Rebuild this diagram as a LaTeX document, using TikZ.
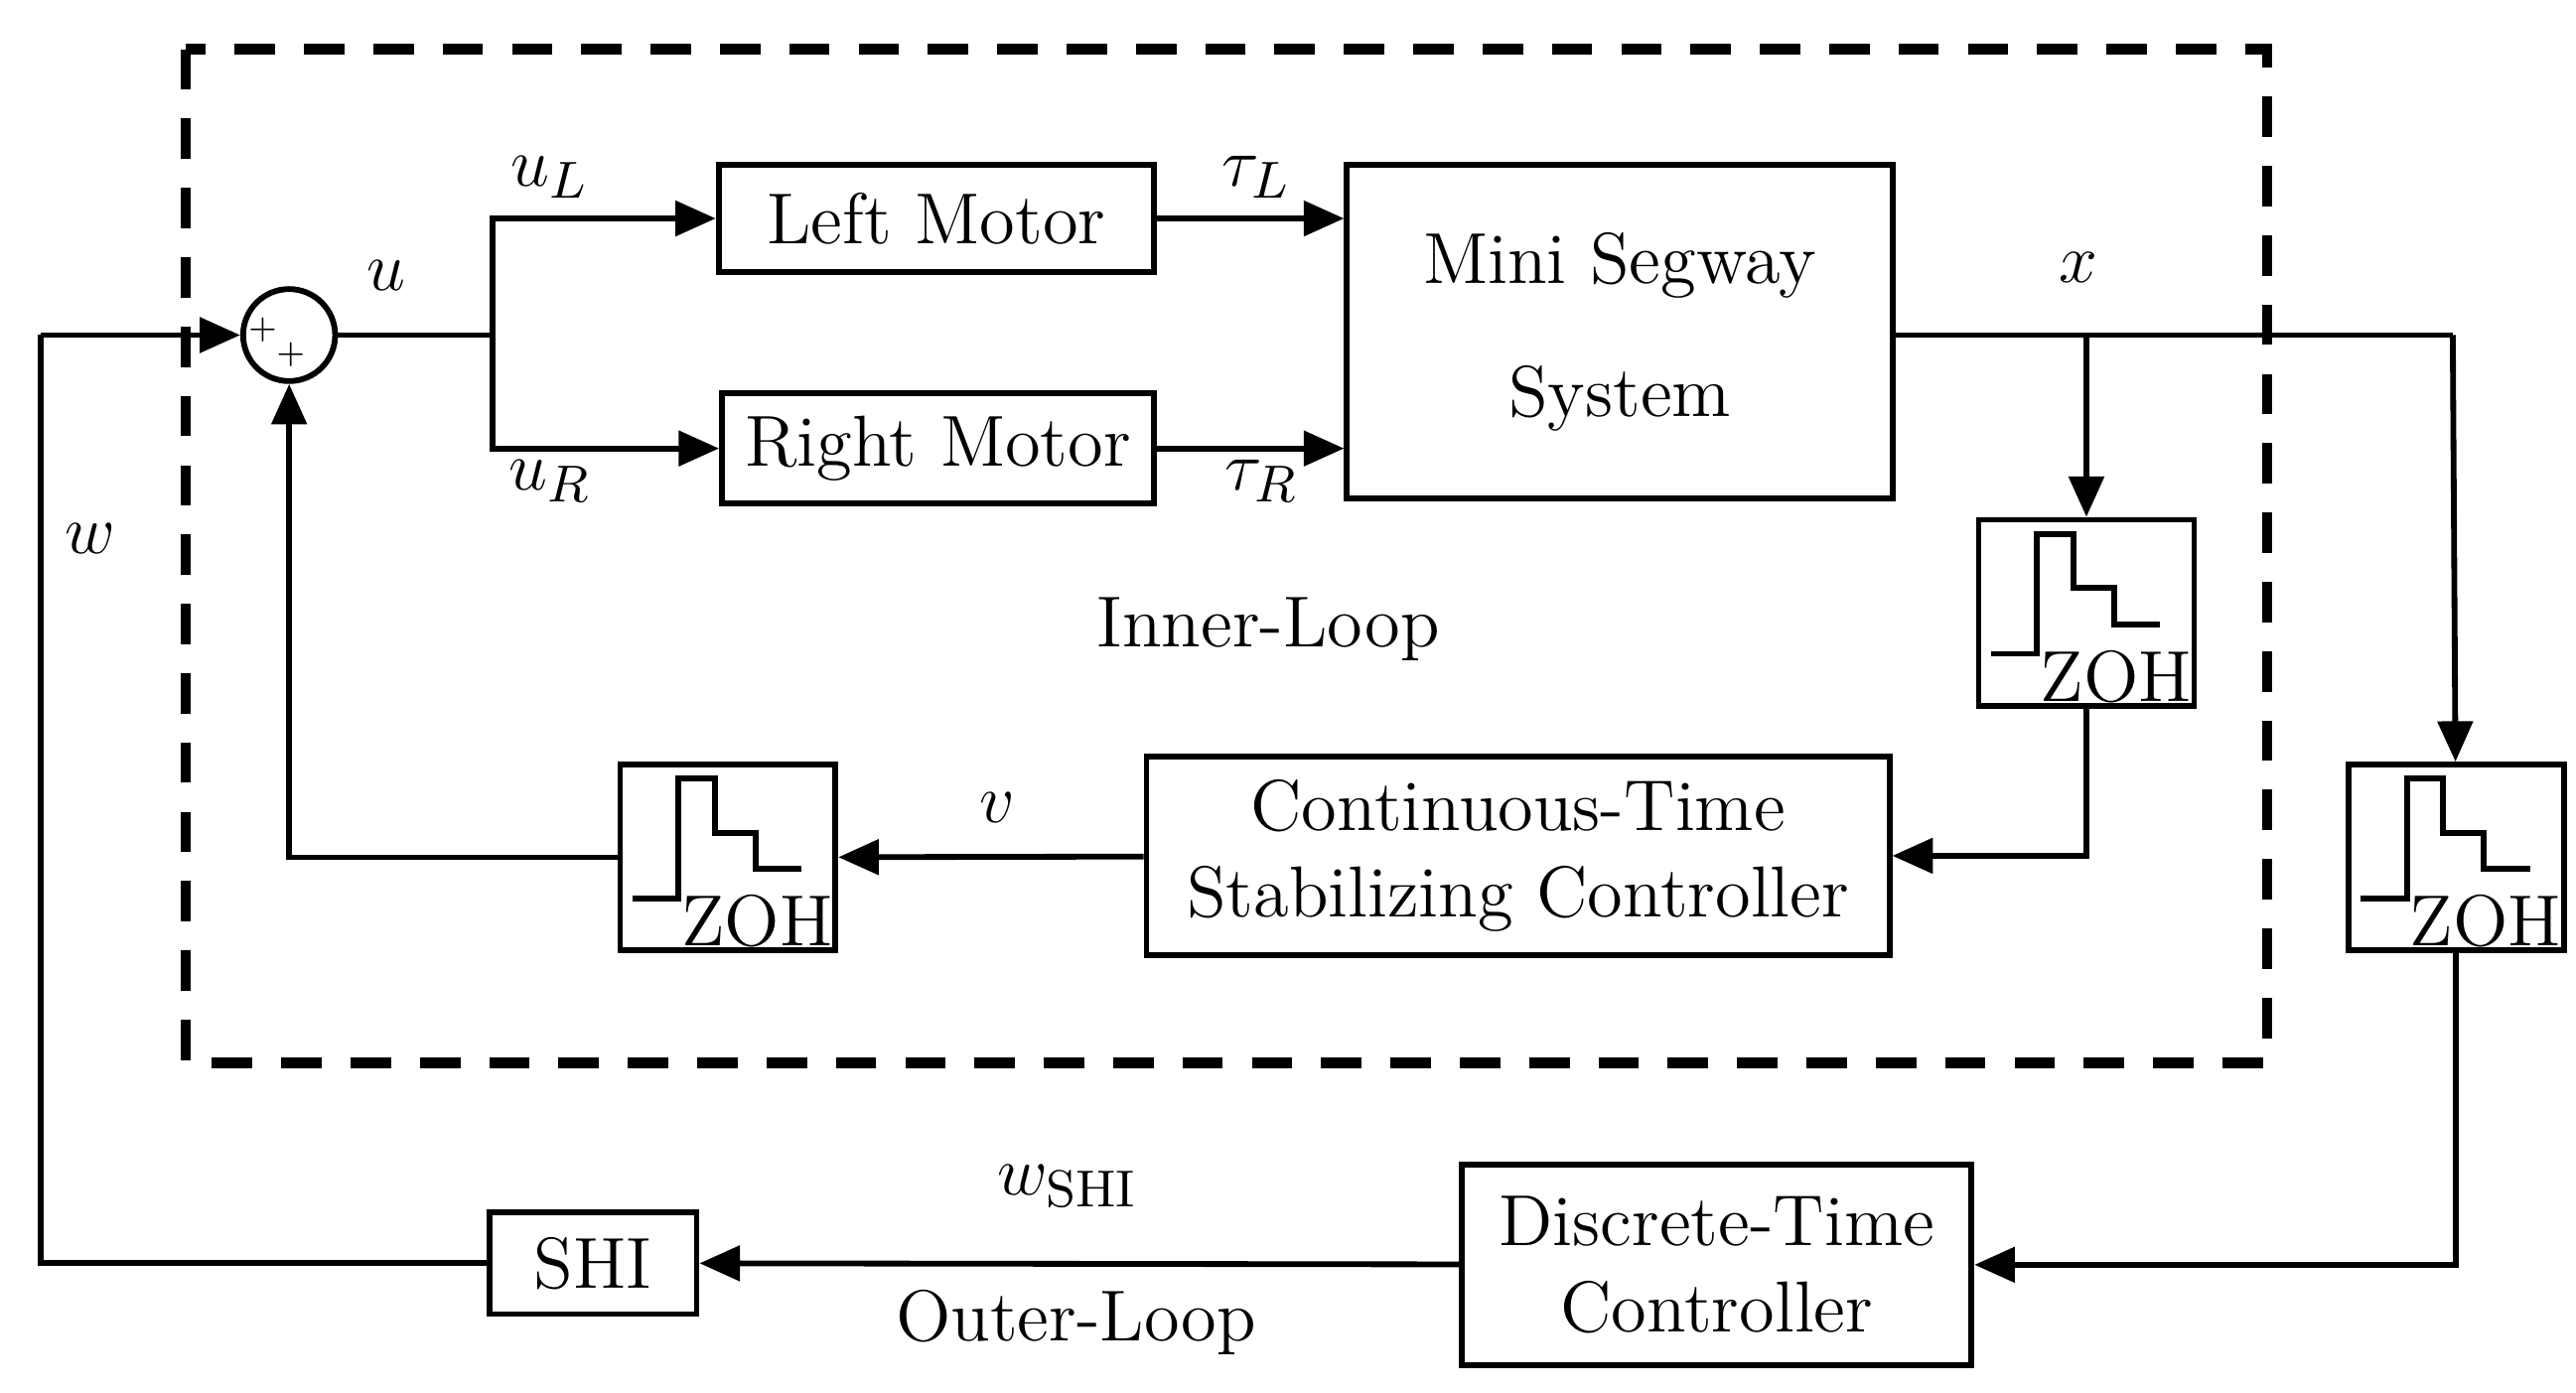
\documentclass[tikz,border=0pt]{standalone}
\usetikzlibrary{arrows.meta,calc}
\tikzset{
  blk/.style={draw,line width=1pt,inner sep=2pt,align=center,font=\fontsize{12.5}{15}\selectfont},
  zoh/.style={draw,line width=1pt,minimum width=1.31cm,minimum height=1.13cm},
  sig/.style={line width=1pt,-{Triangle[length=7pt,width=6pt]}},
  ln/.style={line width=1pt},
  lbl/.style={font=\fontsize{12.5}{15}\selectfont}
}
\newcommand{\zohglyph}[1]{%
  \draw[ln] ($(#1)+(-58,25)$) -- ++(28,0) -- ++(0,-73) -- ++(22,0) -- ++(0,33)
    -- ++(25,0) -- ++(0,22) -- ++(28,0);
  \node[lbl,inner sep=0pt] at ($(#1)+(18,39)$) {ZOH};}
\begin{document}
\begin{tikzpicture}[x=0.01cm,y=-0.01cm]
\useasboundingbox (0,0) rectangle (1568,848);
% inner loop frame
\draw[line width=1.8pt,dash pattern=on 7pt off 5pt] (113,30) rectangle (1380,647);
\node[lbl] at (772,383) {Inner-Loop};
% blocks
\node[draw,line width=1pt,circle,minimum size=0.56cm,inner sep=0pt] (sum) at (176,204) {};
\node[font=\tiny,inner sep=0pt] at (160,201) {$+$};
\node[font=\tiny,inner sep=0pt] at (177,216) {$+$};
\node[blk,minimum width=2.65cm,minimum height=0.65cm] (lm) at (570,133) {Left Motor};
\node[blk,minimum width=2.63cm,minimum height=0.67cm] (rm) at (571,273) {Right Motor};
\node[blk,minimum width=3.32cm,minimum height=2.03cm] (seg) at (986,202) {Mini Segway\\[8pt] System};
\node[zoh] (zoha) at (1270,373) {};
\node[blk,minimum width=4.52cm,minimum height=1.21cm] (ctc) at (924,521) {Continuous-Time\\ Stabilizing Controller};
\node[zoh] (zohb) at (443,522) {};
\node[zoh] (zohc) at (1495,522) {};
\node[blk,minimum width=3.1cm,minimum height=1.22cm] (dtc) at (1045,770) {Discrete-Time\\ Controller};
\node[blk,minimum width=1.26cm,minimum height=0.62cm] (shi) at (361,769) {SHI};
\zohglyph{zoha}
\zohglyph{zohb}
\zohglyph{zohc}
% coordinates
\coordinate (win) at (25,204);
\coordinate (br) at (300,204);
\coordinate (xa) at (1270,204);
\coordinate (xb) at (1493,204);
% forward path
\draw[sig] (win) -- (sum);
\draw[ln] (sum) -- (br);
\draw[sig] (br) |- (lm);
\draw[sig] (br) |- (rm);
\draw[sig] (lm) -- (lm -| seg.west);
\draw[sig] (rm) -- (rm -| seg.west);
\draw[ln] (seg.east |- xb) -- (xb);
\draw[sig] (xa) -- (zoha);
\draw[sig] (xb) -- (zohc);
% inner feedback
\draw[sig] (zoha) |- (ctc);
\draw[sig] (ctc) -- (zohb);
\draw[sig] (zohb) -| (sum);
% outer loop
\draw[sig] (zohc) |- (dtc);
\draw[sig] (dtc) -- (shi);
\draw[ln] (shi) -| (win);
% labels
\node[lbl] at (235,168) {$u$};
\node[lbl] at (335,108) {$u_L$};
\node[lbl] at (335,293) {$u_R$};
\node[lbl] at (765,108) {$\tau_L$};
\node[lbl] at (768,293) {$\tau_R$};
\node[lbl] at (1265,163) {$x$};
\node[lbl] at (607,492) {$v$};
\node[lbl] at (55,328) {$w$};
\node[lbl] at (650,722) {$w_{\mathrm{SHI}}$};
\node[lbl] at (655,805) {Outer-Loop};
\end{tikzpicture}
\end{document}
